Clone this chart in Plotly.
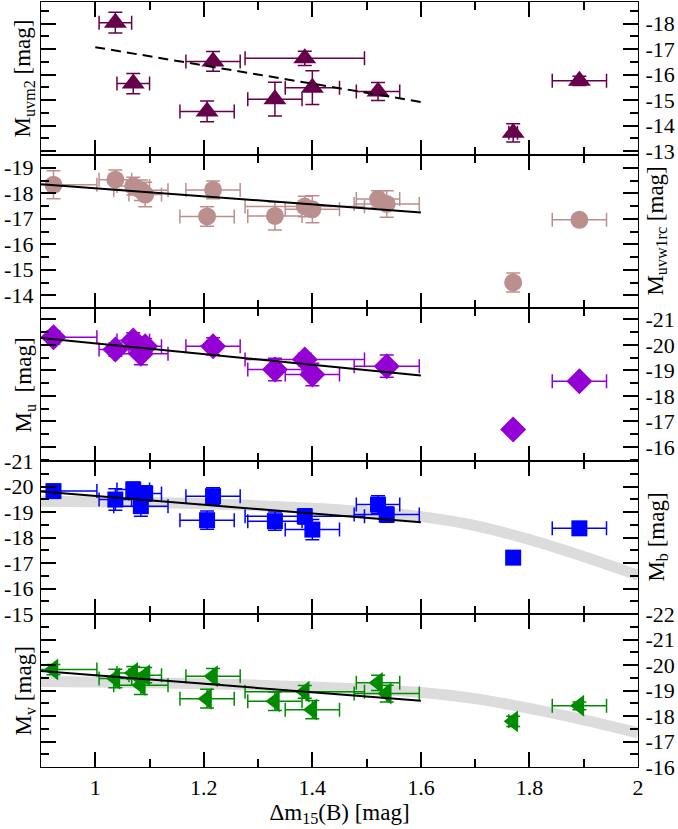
import plotly.graph_objects as go
from plotly.subplots import make_subplots

# ---------------- data ----------------
dm15 = [0.923, 1.037, 1.070, 1.084, 1.092, 1.206, 1.217, 1.331, 1.386, 1.400, 1.521, 1.537, 1.770, 1.892]
dm15_err = [0.08, 0.03, 0.03, 0.05, 0.03, 0.05, 0.05, 0.05, 0.11, 0.05, 0.04, 0.06, 0.008, 0.05]

# uvm2 (subset of objects)
uvm2_idx = [1, 2, 5, 6, 7, 8, 9, 10, 12, 13]
uvm2 = [-18.04, -15.65, -14.56, -16.52, -15.04, -16.64, -15.49, -15.34, -13.72, -15.76]
uvm2_err = [0.41, 0.40, 0.41, 0.39, 0.66, 0.28, 0.66, 0.35, 0.36, 0.18]

# uvw1rc
uvw1 = [-18.33, -18.53, -18.28, -18.12, -17.95, -17.09, -18.13, -17.11, -17.48, -17.37, -17.77, -17.58, -14.50, -16.96]
uvw1_err = [0.55, 0.38, 0.35, 0.40, 0.48, 0.38, 0.35, 0.55, 0.40, 0.53, 0.33, 0.52, 0.37, 0.15]

# u
u_idx = [0, 1, 2, 3, 4, 6, 7, 8, 9, 11, 12, 13]
u = [-20.30, -19.82, -20.18, -19.66, -19.95, -19.95, -19.04, -19.43, -18.84, -19.17, -16.69, -18.58]
u_err = [0.26, 0.26, 0.30, 0.44, 0.30, 0.33, 0.44, 0.25, 0.44, 0.44, 0.20, 0.15]

# b
b = [-19.82, -19.49, -19.88, -19.23, -19.73, -18.68, -19.62, -18.64, -18.83, -18.31, -19.29, -18.90, -17.21, -18.36]
b_err = [0.20, 0.42, 0.30, 0.40, 0.30, 0.36, 0.33, 0.36, 0.30, 0.40, 0.35, 0.30, 0.20, 0.15]

# v
v = [-19.82, -19.47, -19.69, -19.21, -19.60, -18.68, -19.56, -18.58, -18.95, -18.25, -19.30, -18.88, -17.79, -18.40]
v_err = [0.20, 0.36, 0.25, 0.37, 0.30, 0.37, 0.30, 0.36, 0.25, 0.36, 0.30, 0.33, 0.20, 0.15]

# linear fits (end points)
fit_uvm2_x = [1.0, 1.6]
fit_uvm2_y = [-17.08, -14.93]
fit_x = [0.9, 1.6]
fit_uvw1_y = [-18.35, -17.25]
fit_u_y = [-20.27, -18.80]
fit_b_y = [-19.80, -18.60]
fit_v_y = [-19.76, -18.60]

# grey reference relations
band_x = [0.9, 1.0, 1.1, 1.2, 1.3, 1.4, 1.5, 1.6, 1.7, 1.8, 1.9, 2.0]
band_b = [-19.42, -19.40, -19.37, -19.32, -19.25, -19.15, -19.01, -18.82, -18.47, -17.92, -17.25, -16.52]
band_v = [-19.35, -19.33, -19.30, -19.26, -19.21, -19.14, -19.05, -18.92, -18.68, -18.30, -17.85, -17.34]

# axis ranges (bottom, top) and tick labels
y_ranges = [[-12.85, -18.85], [-13.5, -19.5], [-15.45, -21.45], [-15, -21], [-16, -22]]
y_ticks = [[-18, -17, -16, -15, -14, -13],
           [-19, -18, -17, -16, -15, -14],
           [-21, -20, -19, -18, -17, -16],
           [-21, -20, -19, -18, -17, -16, -15],
           [-22, -21, -20, -19, -18, -17, -16]]
y_tick_text = [[str(t) for t in ts] for ts in y_ticks]
y_label_side = ["right", "left", "right", "left", "right"]
y_titles = ["M<sub>uvm2</sub> [mag]", "M<sub>uvw1rc</sub> [mag]", "M<sub>u</sub>  [mag]",
            "M<sub>b</sub> [mag]", "M<sub>v</sub> [mag]"]
x_ticks = [1.0, 1.2, 1.4, 1.6, 1.8, 2.0]
x_tick_text = ["1", "1.2", "1.4", "1.6", "1.8", "2"]

C_UVM2 = "#66004a"
C_UVW1 = "#bc8f8f"
C_U = "#9400d3"
C_B = "#0000ff"
C_V = "#008b00"
C_BAND = "#dcdcdc"

FONT = "'Liberation Serif', 'Times New Roman', Times, serif"

fig = make_subplots(rows=5, cols=1, shared_xaxes=True, vertical_spacing=0)


def add_points(row, xs, xe, ys, ye, symbol, size, color):
    fig.add_trace(go.Scatter(
        x=xs, y=ys, mode="markers",
        marker=dict(symbol=symbol, size=size, color=color, line=dict(width=0)),
        error_x=dict(type="data", array=xe, color=color, thickness=1.5, width=7),
        error_y=dict(type="data", array=ye, color=color, thickness=1.5, width=7),
        showlegend=False, hoverinfo="skip"), row=row, col=1)


def add_line(row, xs, ys, color="black", width=2, dash="solid", shape="linear"):
    fig.add_trace(go.Scatter(x=xs, y=ys, mode="lines",
                             line=dict(color=color, width=width, dash=dash, shape=shape),
                             showlegend=False, hoverinfo="skip"), row=row, col=1)


# panel 1 : uvm2
add_points(1, [dm15[i] for i in uvm2_idx], [dm15_err[i] for i in uvm2_idx], uvm2, uvm2_err,
           "triangle-up", 20, C_UVM2)
add_line(1, fit_uvm2_x, fit_uvm2_y, dash="10px,6px")

# panel 2 : uvw1rc
add_points(2, dm15, dm15_err, uvw1, uvw1_err, "circle", 18, C_UVW1)
add_line(2, fit_x, fit_uvw1_y)

# panel 3 : u
add_points(3, [dm15[i] for i in u_idx], [dm15_err[i] for i in u_idx], u, u_err, "diamond", 20, C_U)
add_line(3, fit_x, fit_u_y)

# panel 4 : b
add_line(4, band_x, band_b, color=C_BAND, width=11, shape="spline")
add_points(4, dm15, dm15_err, b, b_err, "square", 16, C_B)
add_line(4, fit_x, fit_b_y)

# panel 5 : v
add_line(5, band_x, band_v, color=C_BAND, width=11, shape="spline")
add_points(5, dm15, dm15_err, v, v_err, "triangle-left", 19, C_V)
add_line(5, fit_x, fit_v_y)

tick_font = dict(family=FONT, size=22, color="black")

for r in range(1, 6):
    fig.update_xaxes(
        range=[0.9, 2.0], showgrid=False, zeroline=False, automargin=False,
        showline=True, linecolor="black", linewidth=1.3, mirror="allticks",
        ticks="inside", ticklen=15, tickwidth=1.5, tickcolor="black",
        tickmode="array", tickvals=x_ticks, ticktext=x_tick_text,
        minor=dict(ticks="inside", ticklen=8, tickwidth=1.5, tickcolor="black",
                   tickmode="linear", tick0=0.9, dtick=0.1),
        tickfont=tick_font, showticklabels=(r == 5),
        row=r, col=1)
    fig.update_yaxes(
        range=y_ranges[r - 1], side=y_label_side[r - 1], showgrid=False, zeroline=False,
        automargin=False,
        showline=True, linecolor="black", linewidth=1.3, mirror="allticks",
        ticks="inside", ticklen=15, tickwidth=1.5, tickcolor="black",
        tickmode="array", tickvals=y_ticks[r - 1], ticktext=y_tick_text[r - 1],
        minor=dict(ticks="inside", ticklen=8, tickwidth=1.5, tickcolor="black",
                   tickmode="linear", tick0=0.5, dtick=0.5),
        tickfont=tick_font, ticklabelstandoff=2,
        row=r, col=1)

fig.update_xaxes(title=dict(text="Δm<sub>15</sub>(B) [mag]", font=dict(family=FONT, size=23, color="black"),
                            standoff=4), row=5, col=1)

# y-axis titles on the side opposite the tick labels
annos = []
for r in range(1, 6):
    yref = "y domain" if r == 1 else f"y{r} domain"
    left = y_label_side[r - 1] == "right"
    annos.append(dict(text=y_titles[r - 1], xref="paper", yref=yref,
                      x=-0.027 if left else 1.032, y=0.5, xanchor="center", yanchor="middle",
                      textangle=-90, showarrow=False,
                      font=dict(family=FONT, size=23, color="black")))
fig.update_layout(annotations=annos)

fig.update_layout(width=678, height=829, margin=dict(l=41, r=40, t=2, b=62, autoexpand=False),
                  plot_bgcolor="white", paper_bgcolor="white", showlegend=False,
                  font=dict(family=FONT, color="black"))

fig.write_html("out.html", config={"displayModeBar": False},
               post_script="document.body.style.margin='0px';document.body.style.overflow='hidden';")
